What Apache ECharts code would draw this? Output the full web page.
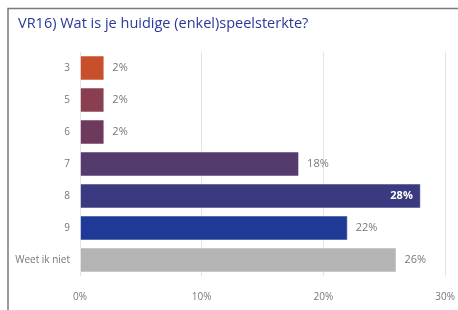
<!DOCTYPE html>
<html>
<head>
  <meta charset="utf-8">
  <title>VR16 speelsterkte</title>
  <script src="https://cdn.jsdelivr.net/npm/echarts/dist/echarts.min.js"></script>
  <style>
    html, body { margin: 0; padding: 0; background: #fff; }
    #chart { width: 458px; height: 310px; }
  </style>
</head>
<body>
  <div id="chart"></div>
  <script>
    // data
    const categories = ['3', '5', '6', '7', '8', '9', 'Weet ik niet'];
    const percentages = [2, 2, 2, 18, 28, 22, 26];
    const barColors = ['#c84f2c', '#8a3f50', '#6d3a5e', '#553a6e', '#3a3a80', '#1f3996', '#b4b4b4'];
    const xTicks = [0, 10, 20, 30];

    const chart = echarts.init(document.getElementById('chart'));
    chart.setOption({
      animation: false,
      title: {
        text: 'VR16) Wat is je huidige (enkel)speelsterkte?',
        left: 13,
        top: 11,
        textStyle: { color: '#28399a', fontSize: 14.5, fontWeight: 'normal', fontFamily: 'Open Sans' }
      },
      graphic: [{
        type: 'polyline',
        shape: { points: [[8, 320], [8, 8.5], [470, 8.5]] },
        style: { stroke: '#7a7a7a', lineWidth: 1.5, fill: null }
      }],
      grid: { left: 80, right: 12, top: 52, bottom: 34 },
      xAxis: {
        type: 'value',
        min: xTicks[0],
        max: xTicks[xTicks.length - 1],
        interval: 10,
        axisLine: { show: false },
        axisTick: { show: false },
        splitLine: { lineStyle: { color: '#e4e4e4' } },
        axisLabel: { formatter: '{value}%', color: '#777', fontSize: 10, margin: 16, fontFamily: 'Open Sans' }
      },
      yAxis: {
        type: 'category',
        inverse: true,
        data: categories,
        axisLine: { show: false },
        axisTick: { show: false },
        axisLabel: { color: '#777', fontSize: 10, margin: 10, fontFamily: 'Open Sans' }
      },
      series: [{
        type: 'bar',
        barCategoryGap: '22%',
        data: percentages.map((v, i) => ({
          value: v,
          itemStyle: { color: barColors[i], borderColor: 'rgba(255,255,255,0.5)', borderWidth: 1 },
          label: v === Math.max(...percentages)
            ? { position: 'insideRight', color: '#fff', fontWeight: 'bold' }
            : {}
        })),
        label: {
          show: true,
          position: 'right',
          distance: 8,
          formatter: '{c}%',
          color: '#777',
          fontSize: 11,
          fontFamily: 'Open Sans'
        }
      }]
    });
  </script>
</body>
</html>
